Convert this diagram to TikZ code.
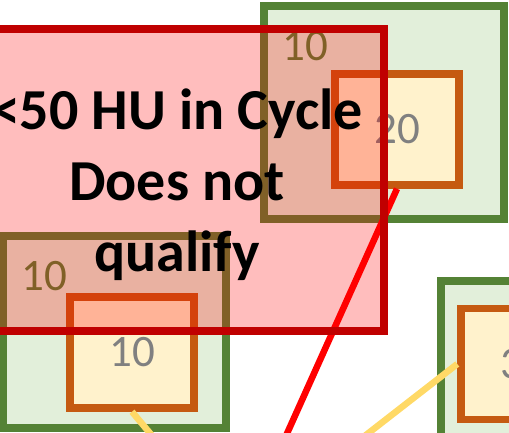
\documentclass[tikz,border=0pt]{standalone}
\usepackage{fontspec}
\setmainfont{Carlito}
\usepackage{xcolor}
\usetikzlibrary{positioning}

\definecolor{boxgreen}{RGB}{84,130,53}
\definecolor{boxgreenfill}{RGB}{226,239,218}
\definecolor{boxorange}{RGB}{197,90,17}
\definecolor{boxcream}{RGB}{255,242,204}
\definecolor{failred}{RGB}{192,0,0}
\definecolor{linkyellow}{RGB}{255,217,102}
\definecolor{labelgray}{RGB}{128,128,128}

\begin{document}
\begin{tikzpicture}[
    x=1pt, y=-1pt,
    outerbox/.style={rectangle, draw=boxgreen, fill=boxgreenfill, line width=7.5pt},
    innerbox/.style={rectangle, draw=boxorange, fill=boxcream, line width=7.5pt, minimum width=124pt, minimum height=111pt, inner sep=0pt, text=labelgray, font=\fontsize{45}{45}\selectfont},
    outerlabel/.style={inner sep=0pt, text=boxgreen, font=\fontsize{45}{45}\selectfont},
    failbox/.style={rectangle, draw=failred, fill=red, fill opacity=0.26, draw opacity=1, line width=7.5pt},
    failtext/.style={text=black, text opacity=1, align=center, font=\fontsize{58}{71}\selectfont\bfseries},
    hotlink/.style={draw=red, line width=6.5pt},
    warmlink/.style={draw=linkyellow, line width=6.5pt}
]
\useasboundingbox (0,0) rectangle (509,433);

% Outer cells
\node[outerbox, minimum width=240pt, minimum height=213pt] (tr_out) at (384,112.5) {};
\node[outerbox, minimum width=222.5pt, minimum height=192pt] (bl_out) at (114.75,332) {};
\node[outerbox, minimum width=179pt, minimum height=199pt] (r_out) at (530.5,380.5) {};

\node[outerlabel, below right=29pt and 22pt of tr_out.north west] (tr_lbl) {10};
\node[outerlabel, below right=29pt and 22pt of bl_out.north west] (bl_lbl) {10};

% Inner cells
\node[innerbox] (tr_in) at (397,129.5) {20};
\node[innerbox] (bl_in) at (132,352.5) {10};
\node[innerbox] (r_in) at (523,364) {30};

% Links
\coordinate (hot_end) at (254,507);
\coordinate (warm_end_a) at (175,463);
\coordinate (warm_end_b) at (330,463);

\draw[hotlink] (tr_in.south) -- (hot_end);
\draw[warmlink] (bl_in.south) -- (warm_end_a);
\draw[warmlink] (r_in.west) -- (warm_end_b);

% Overlay
\node[failbox, minimum width=414pt, minimum height=302pt] (fail) at (177,180) {};
\node[failtext, yshift=-5pt] (fail_txt) at (fail.center) {<50 HU in Cycle\\Does not\\qualify};

\end{tikzpicture}
\end{document}
